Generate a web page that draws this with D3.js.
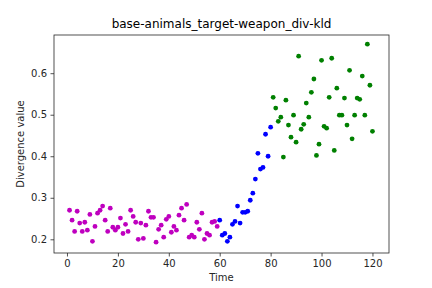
<!DOCTYPE html>
<html>
<head>
<meta charset="utf-8">
<script src="https://cdn.jsdelivr.net/npm/d3@7"></script>
<style>
  body { margin: 0; background: #fff; }
  svg { display: block; font-family: "DejaVu Sans", sans-serif; }
</style>
</head>
<body>
<div id="chart"></div>
<script>
// Values
const title = "base-animals_target-weapon_div-kld";
const magentaTime = d3.range(1, 60);
const magentaValue = [0.270, 0.246, 0.219, 0.2675, 0.239, 0.219, 0.241, 0.222, 0.260, 0.195,
  0.231, 0.263, 0.270, 0.280, 0.246, 0.219, 0.275, 0.229, 0.222, 0.229,
  0.251, 0.214, 0.236, 0.219, 0.270, 0.255, 0.241, 0.200, 0.239, 0.202,
  0.234, 0.2675, 0.253, 0.253, 0.193, 0.224, 0.234, 0.205, 0.248, 0.255,
  0.217, 0.231, 0.222, 0.258, 0.275, 0.246, 0.284, 0.205, 0.210, 0.205,
  0.241, 0.224, 0.263, 0.200, 0.214, 0.210, 0.241, 0.243, 0.231];
const blueTime = d3.range(60, 81);
const blueValue = [0.246, 0.210, 0.214, 0.195, 0.205, 0.236, 0.243, 0.280, 0.239, 0.265,
  0.265, 0.2675, 0.294, 0.311, 0.345, 0.407, 0.369, 0.373, 0.453, 0.400, 0.470];
const greenTime = d3.range(81, 121);
const greenValue = [0.542, 0.516, 0.484, 0.494, 0.398, 0.535, 0.475, 0.446, 0.499, 0.434,
  0.641, 0.465, 0.477, 0.528, 0.494, 0.554, 0.586, 0.402, 0.429, 0.631,
  0.472, 0.4675, 0.542, 0.636, 0.414, 0.564, 0.499, 0.499, 0.540, 0.475,
  0.607, 0.442, 0.499, 0.540, 0.537, 0.593, 0.499, 0.670, 0.571, 0.460];
const xTicks = [0, 20, 40, 60, 80, 100, 120];
const yTicks = [0.2, 0.3, 0.4, 0.5, 0.6];

const width = 432, height = 288;
const margin = {top: 35, right: 43, bottom: 35, left: 54};

const svg = d3.select("#chart").append("svg")
  .attr("width", width)
  .attr("height", height);

const x = d3.scaleLinear().domain([-5.1, 126.5]).range([margin.left, width - margin.right]);
const y = d3.scaleLinear().domain([0.167, 0.692]).range([height - margin.bottom, margin.top]);

// x axis
svg.append("g")
  .attr("transform", "translate(0," + (height - margin.bottom) + ")")
  .call(d3.axisBottom(x).tickValues(xTicks).tickSize(3.5).tickPadding(3.5).tickFormat(d3.format("d")))
  .call(g => g.select(".domain").remove())
  .style("font-size", "10px");

// y axis
svg.append("g")
  .attr("transform", "translate(" + margin.left + ",0)")
  .call(d3.axisLeft(y).tickValues(yTicks).tickSize(3.5).tickPadding(3.5).tickFormat(d3.format(".1f")))
  .call(g => g.select(".domain").remove())
  .style("font-size", "10px");

svg.selectAll(".tick text").attr("fill", "#262626").style("font-family", "DejaVu Sans");
svg.selectAll(".tick line").attr("stroke", "#262626").attr("stroke-width", 0.8);

// frame
svg.append("rect")
  .attr("x", margin.left)
  .attr("y", margin.top)
  .attr("width", width - margin.left - margin.right)
  .attr("height", height - margin.top - margin.bottom)
  .attr("fill", "none")
  .attr("stroke", "#262626")
  .attr("stroke-width", 0.8);

// points
const series = [
  {t: magentaTime, v: magentaValue, color: "#bf00bf"},
  {t: blueTime, v: blueValue, color: "#0000ff"},
  {t: greenTime, v: greenValue, color: "#008000"}
];
series.forEach(s => {
  svg.append("g").selectAll("circle")
    .data(s.t.map((t, i) => ({t: t, v: s.v[i]})))
    .join("circle")
    .attr("cx", d => x(d.t))
    .attr("cy", d => y(d.v))
    .attr("r", 2.4)
    .attr("fill", s.color);
});

// title and labels
svg.append("text")
  .attr("x", (margin.left + width - margin.right) / 2)
  .attr("y", 28)
  .attr("text-anchor", "middle")
  .style("font-size", "12px")
  .attr("fill", "#000")
  .text(title);

svg.append("text")
  .attr("x", (margin.left + width - margin.right) / 2)
  .attr("y", 281)
  .attr("text-anchor", "middle")
  .style("font-size", "10px")
  .attr("fill", "#262626")
  .text("Time");

svg.append("text")
  .attr("transform", "rotate(-90)")
  .attr("x", -(margin.top + height - margin.bottom) / 2)
  .attr("y", 24)
  .attr("text-anchor", "middle")
  .style("font-size", "10px")
  .attr("fill", "#262626")
  .text("Divergence value");
</script>
</body>
</html>
